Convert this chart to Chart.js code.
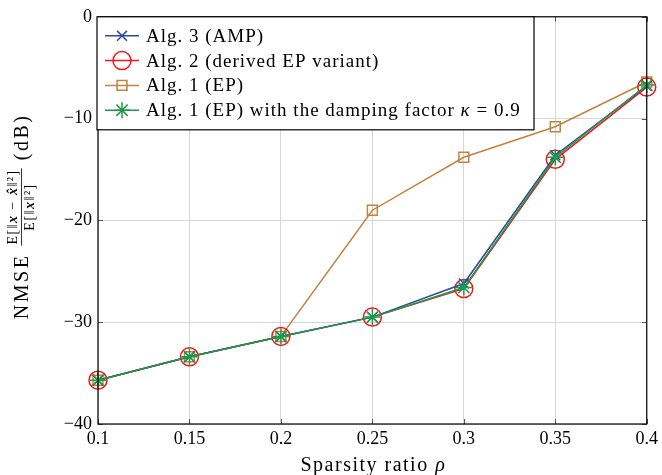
<!DOCTYPE html>
<html>
<head>
<meta charset="utf-8">
<script src="https://cdn.jsdelivr.net/npm/chart.js@4"></script>
<style>
  html, body { margin: 0; padding: 0; background: #fff; }
  #wrap { width: 662px; height: 475px; }
</style>
</head>
<body>
<div id="wrap"><canvas id="nmse_chart" width="662" height="475"></canvas></div>
<script>
'use strict';

// Data
const sparsity = ['0.1', '0.15', '0.2', '0.25', '0.3', '0.35', '0.4'];
const yTicks = [0, -10, -20, -30, -40];
const ampNmse = [-35.7, -33.4, -31.4, -29.5, -26.2, -13.6, -6.8];
const epVariantNmse = [-35.7, -33.4, -31.4, -29.5, -26.7, -14.0, -6.9];
const epNmse = [-35.7, -33.4, -31.4, -19.0, -13.8, -10.8, -6.4];
const epDampedNmse = [-35.7, -33.4, -31.4, -29.5, -26.6, -13.8, -6.7];

const SERIF = '"Liberation Serif", "DejaVu Serif", serif';

const series = [
  { label: [['Alg. 3 (AMP)', '']], data: ampNmse, color: '#2c4aa0', style: 'crossRot', r: 7, order: 1 },
  { label: [['Alg. 2 (derived EP variant)', '']], data: epVariantNmse, color: '#f01818', style: 'circle', r: 9, order: 2 },
  { label: [['Alg. 1 (EP)', '']], data: epNmse, color: '#c4823c', style: 'rect', r: 7, order: 3 },
  { label: [['Alg. 1 (EP) with the damping factor ', ''], ['\u03BA', 'italic '], [' = 0.9', '']], data: epDampedNmse, color: '#1c9a48', style: 'star', r: 8, order: 0 }
];

// draw a run of text pieces with their own fonts, returns width
function drawRuns(ctx, runs, x, y, measureOnly) {
  let w = 0;
  runs.forEach(([txt, font]) => {
    ctx.font = font;
    if (!measureOnly) ctx.fillText(txt, x + w, y);
    w += ctx.measureText(txt).width;
  });
  return w;
}

// frame, inward ticks, axis labels and legend, pgfplots style
const decorations = {
  id: 'decorations',
  afterDraw(chart) {
    const { ctx, chartArea: a, scales } = chart;
    ctx.save();

    // inward ticks
    ctx.strokeStyle = '#555';
    ctx.lineWidth = 1;
    yTicks.forEach(v => {
      const y = Math.round(scales.y.getPixelForValue(v)) + 0.5;
      ctx.beginPath();
      ctx.moveTo(a.left, y); ctx.lineTo(a.left + 5, y);
      ctx.moveTo(a.right, y); ctx.lineTo(a.right - 5, y);
      ctx.stroke();
    });
    sparsity.forEach((s, i) => {
      const x = Math.round(scales.x.getPixelForValue(i)) + 0.5;
      ctx.beginPath();
      ctx.moveTo(x, a.bottom); ctx.lineTo(x, a.bottom - 5);
      ctx.moveTo(x, a.top); ctx.lineTo(x, a.top + 5);
      ctx.stroke();
    });

    // frame
    ctx.strokeStyle = '#000';
    ctx.lineWidth = 1.2;
    ctx.strokeRect(a.left, a.top, a.right - a.left, a.bottom - a.top);

    // x axis title
    ctx.fillStyle = '#000';
    ctx.letterSpacing = '1.5px';
    ctx.textBaseline = 'alphabetic';
    const xTitle = [['Sparsity ratio ', '20px ' + SERIF], ['\u03C1', 'italic 20px ' + SERIF]];
    const wTitle = drawRuns(ctx, xTitle, 0, 0, true);
    drawRuns(ctx, xTitle, (a.left + a.right) / 2 + 1 - wTitle / 2, 471, false);

    // y axis label with fraction
    const big = '20px ' + SERIF;
    const small = '14px ' + SERIF;
    const smallB = 'italic bold 14px ' + SERIF;
    const num = [['E[\u2016', small], ['x', smallB], [' \u2212 ', small], ['x\u0302', smallB], ['\u2016\u00B2]', small]];
    const den = [['E[\u2016', small], ['x', smallB], ['\u2016\u00B2]', small]];
    ctx.translate(28, 0);
    ctx.rotate(-Math.PI / 2);
    ctx.font = big;
    ctx.letterSpacing = '2.5px';
    const wNmse = ctx.measureText('NMSE').width;
    const wDb = ctx.measureText('(dB)').width;
    ctx.letterSpacing = '1.5px';
    const wNum = drawRuns(ctx, num, 0, 0, true);
    const wDen = drawRuns(ctx, den, 0, 0, true);
    const wFrac = Math.max(wNum, wDen) + 2;
    const gap = 8;
    const total = wNmse + gap + wFrac + gap + wDb;
    let x = -(a.top + a.bottom) / 2 - total / 2 + 4;
    ctx.letterSpacing = '2.5px';
    ctx.font = big;
    ctx.fillText('NMSE', x, 0);
    x += wNmse + gap;
    ctx.letterSpacing = '1.5px';
    drawRuns(ctx, num, x + (wFrac - wNum) / 2, -11, false);
    drawRuns(ctx, den, x + (wFrac - wDen) / 2, 6, false);
    ctx.beginPath();
    ctx.lineWidth = 0.8;
    ctx.moveTo(x, -6.5); ctx.lineTo(x + wFrac, -6.5);
    ctx.stroke();
    x += wFrac + gap;
    ctx.letterSpacing = '2.5px';
    ctx.font = big;
    ctx.fillText('(dB)', x, 0);
    ctx.setTransform(1, 0, 0, 1, 0, 0);

    // legend
    const lx = a.left - 1, ly = a.top, lw = 437, lh = 113;
    ctx.letterSpacing = '0px';
    ctx.fillStyle = '#fff';
    ctx.fillRect(lx, ly, lw, lh);
    ctx.strokeStyle = '#000';
    ctx.lineWidth = 1.2;
    ctx.strokeRect(lx, ly, lw, lh);
    ctx.textBaseline = 'middle';
    series.forEach((s, i) => {
      const y = ly + 19 + i * 24.8;
      ctx.strokeStyle = s.color;
      ctx.fillStyle = 'rgba(0,0,0,0)';
      ctx.lineWidth = 1.5;
      ctx.beginPath();
      ctx.moveTo(lx + 8, y); ctx.lineTo(lx + 42, y);
      ctx.stroke();
      Chart.helpers.drawPoint(ctx, { pointStyle: s.style, radius: s.r, borderWidth: 1.5 }, lx + 25, y);
      ctx.fillStyle = '#000';
      ctx.letterSpacing = '1px';
      drawRuns(ctx, s.label.map(([t, f]) => [t, f + '19px ' + SERIF]), lx + 49, y + 1, false);
      ctx.letterSpacing = '0px';
    });
    ctx.restore();
  }
};

new Chart(document.querySelector('#nmse_chart'), {
  type: 'line',
  data: {
    labels: sparsity,
    datasets: series.map(s => ({
      label: s.label.map(p => p[0]).join(''),
      data: s.data,
      borderColor: s.color,
      backgroundColor: 'transparent',
      pointBorderColor: s.color,
      pointBackgroundColor: 'transparent',
      pointStyle: s.style,
      pointRadius: s.r,
      pointBorderWidth: 1.5,
      borderWidth: 1.5,
      tension: 0,
      order: s.order
    }))
  },
  options: {
    responsive: false,
    animation: false,
    layout: { padding: { left: 0, right: 14, top: 15, bottom: 0 } },
    plugins: {
      legend: { display: false },
      tooltip: { enabled: false }
    },
    scales: {
      x: {
        type: 'category',
        offset: false,
        grid: { color: '#d6d6d6', drawTicks: false },
        border: { display: false },
        ticks: { color: '#000', padding: 4, font: { family: SERIF, size: 18 } },
        afterFit(scale) { scale.height = 51; }
      },
      y: {
        min: -40,
        max: 0,
        grid: { color: '#d6d6d6', drawTicks: false },
        border: { display: false },
        afterBuildTicks(scale) { scale.ticks = yTicks.map(v => ({ value: v })); },
        ticks: {
          color: '#000',
          padding: 6,
          font: { family: SERIF, size: 18 },
          callback: v => (v === 0 ? '0' : '\u2212' + Math.abs(v))
        },
        afterFit(scale) { scale.width = 98; }
      }
    }
  },
  plugins: [decorations]
});
</script>
</body>
</html>
